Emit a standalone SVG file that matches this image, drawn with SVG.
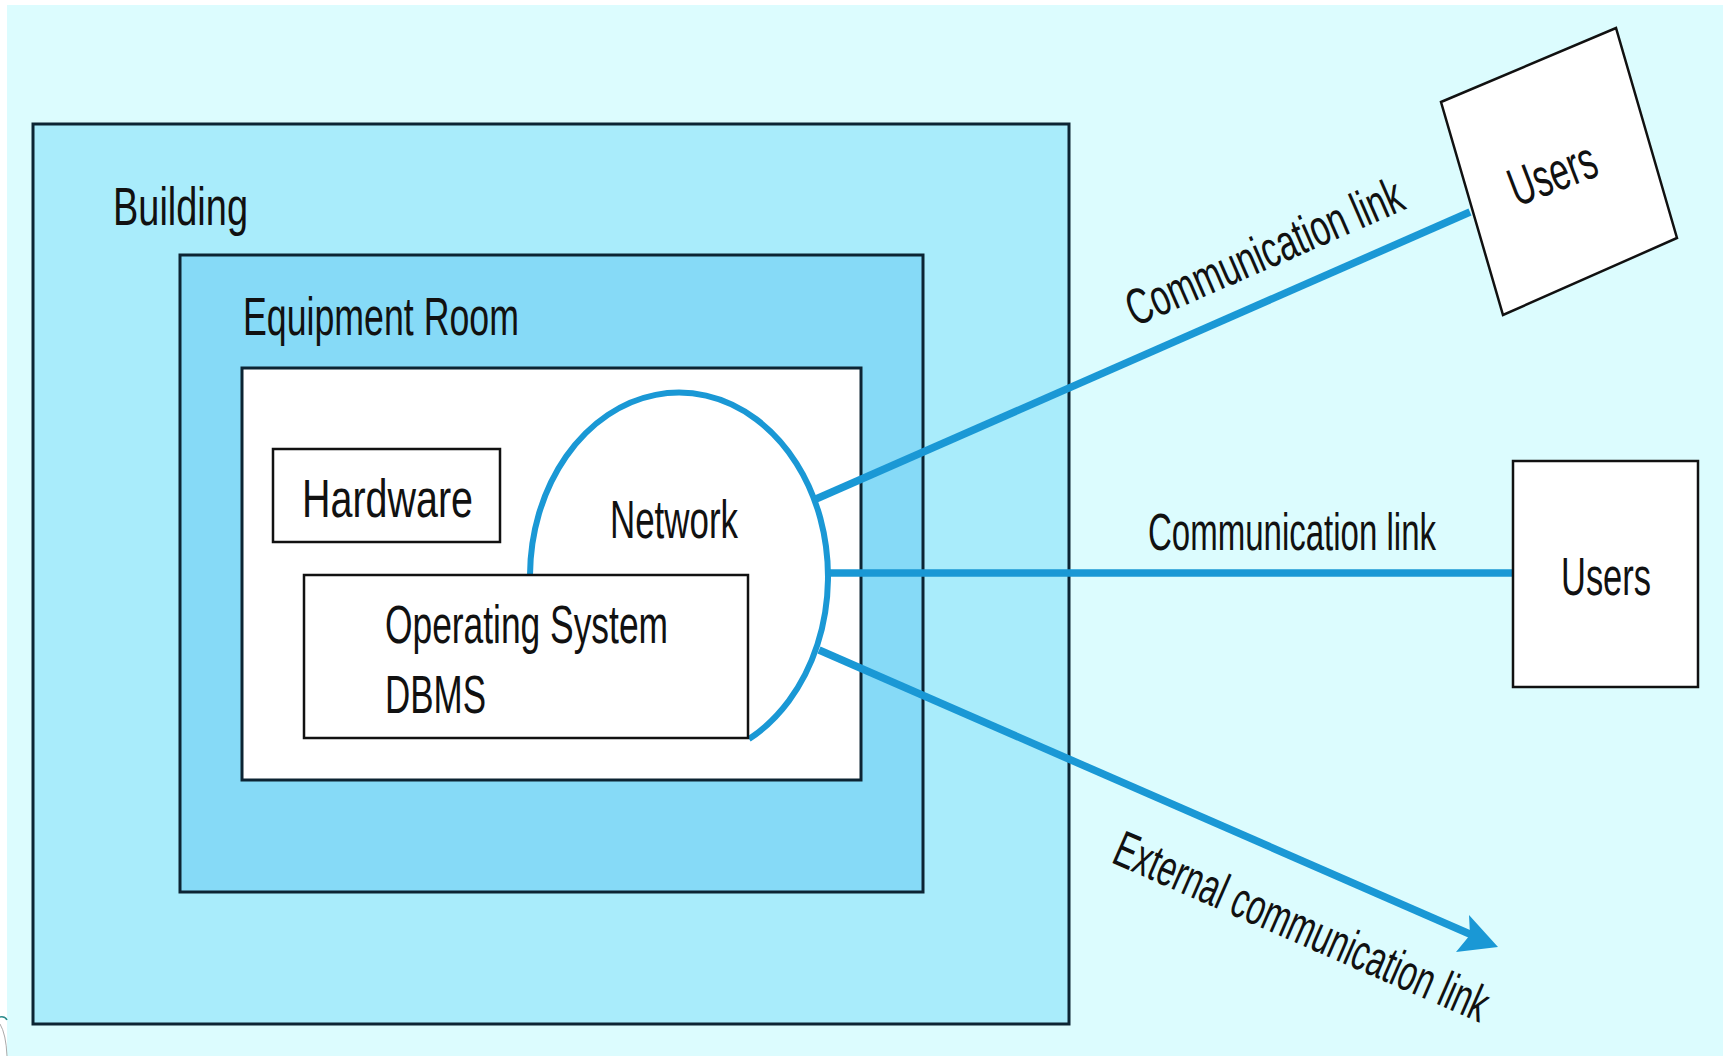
<svg xmlns="http://www.w3.org/2000/svg" width="1723" height="1056" viewBox="0 0 1723 1056">
<style>
.t{font-family:"Liberation Sans",Arial,sans-serif;fill:#111;font-size:54px}
.s{font-size:51px}
.box{stroke:#0c2433;stroke-width:3}
.wb{fill:#fff;stroke:#111;stroke-width:2.5}
.link{stroke:#1a98d5;stroke-width:7.5;fill:none}
</style>
<rect x="0" y="0" width="1723" height="1056" fill="#ffffff"/>
<rect x="7" y="5" width="1716" height="1051" fill="#dcfcfe"/>
<path d="M0,1017 Q5,1016 7,1020" fill="none" stroke="#2a8a8a" stroke-width="1.5"/>
<path d="M0,1024 Q6,1034 7,1056" fill="none" stroke="#aaaaaa" stroke-width="1"/>
<g id="building">
<rect class="box" x="33" y="124" width="1036" height="900" fill="#a9ecfb"/>
<text class="t" x="113" y="225" textLength="135" lengthAdjust="spacingAndGlyphs">Building</text>
</g>
<g id="equipment-room">
<rect class="box" x="180" y="255" width="743" height="637" fill="#86daf7"/>
<text class="t" x="243" y="335" textLength="276" lengthAdjust="spacingAndGlyphs">Equipment Room</text>
</g>
<g id="computer">
<rect class="box" x="242" y="368" width="619" height="412" fill="#ffffff"/>
</g>
<g id="hardware">
<rect class="wb" x="273" y="449" width="227" height="93"/>
<text class="t" x="302" y="517" textLength="171" lengthAdjust="spacingAndGlyphs">Hardware</text>
</g>
<g id="network">
<path d="M530,575 A149,184 0 1,1 749,739" fill="#ffffff" stroke="#1a98d5" stroke-width="6"/>
<text class="t" x="610" y="538" textLength="128" lengthAdjust="spacingAndGlyphs">Network</text>
</g>
<g id="os-dbms">
<rect class="wb" x="304" y="575" width="444" height="163"/>
<text class="t" x="385" y="643" textLength="283" lengthAdjust="spacingAndGlyphs">Operating System</text>
<text class="t" x="385" y="713" textLength="101" lengthAdjust="spacingAndGlyphs">DBMS</text>
</g>
<g id="connectors">
<line class="link" x1="816" y1="499" x2="1470" y2="212"/>
<line class="link" x1="830" y1="573" x2="1513" y2="573"/>
<line class="link" x1="819" y1="650" x2="1472" y2="935"/>
<polygon points="1498,947 1469,915 1470,935 1456,952" fill="#1a98d5"/>
<text class="t s" x="1135" y="327" transform="rotate(-23.5 1135 327)" textLength="297" lengthAdjust="spacingAndGlyphs">Communication link</text>
<text class="t s" x="1148" y="550" textLength="288" lengthAdjust="spacingAndGlyphs">Communication link</text>
<text class="t s" x="1110" y="862" transform="rotate(23.5 1110 862)" textLength="403" lengthAdjust="spacingAndGlyphs">External communication link</text>
</g>
<g id="users-1">
<polygon class="wb" points="1441,102 1616,28 1677,238 1503,315"/>
<text class="t" x="1517" y="207" transform="rotate(-21 1517 207)" textLength="90" lengthAdjust="spacingAndGlyphs">Users</text>
</g>
<g id="users-2">
<rect class="wb" x="1513" y="461" width="185" height="226"/>
<text class="t" x="1561" y="595" textLength="90" lengthAdjust="spacingAndGlyphs">Users</text>
</g>
</svg>
